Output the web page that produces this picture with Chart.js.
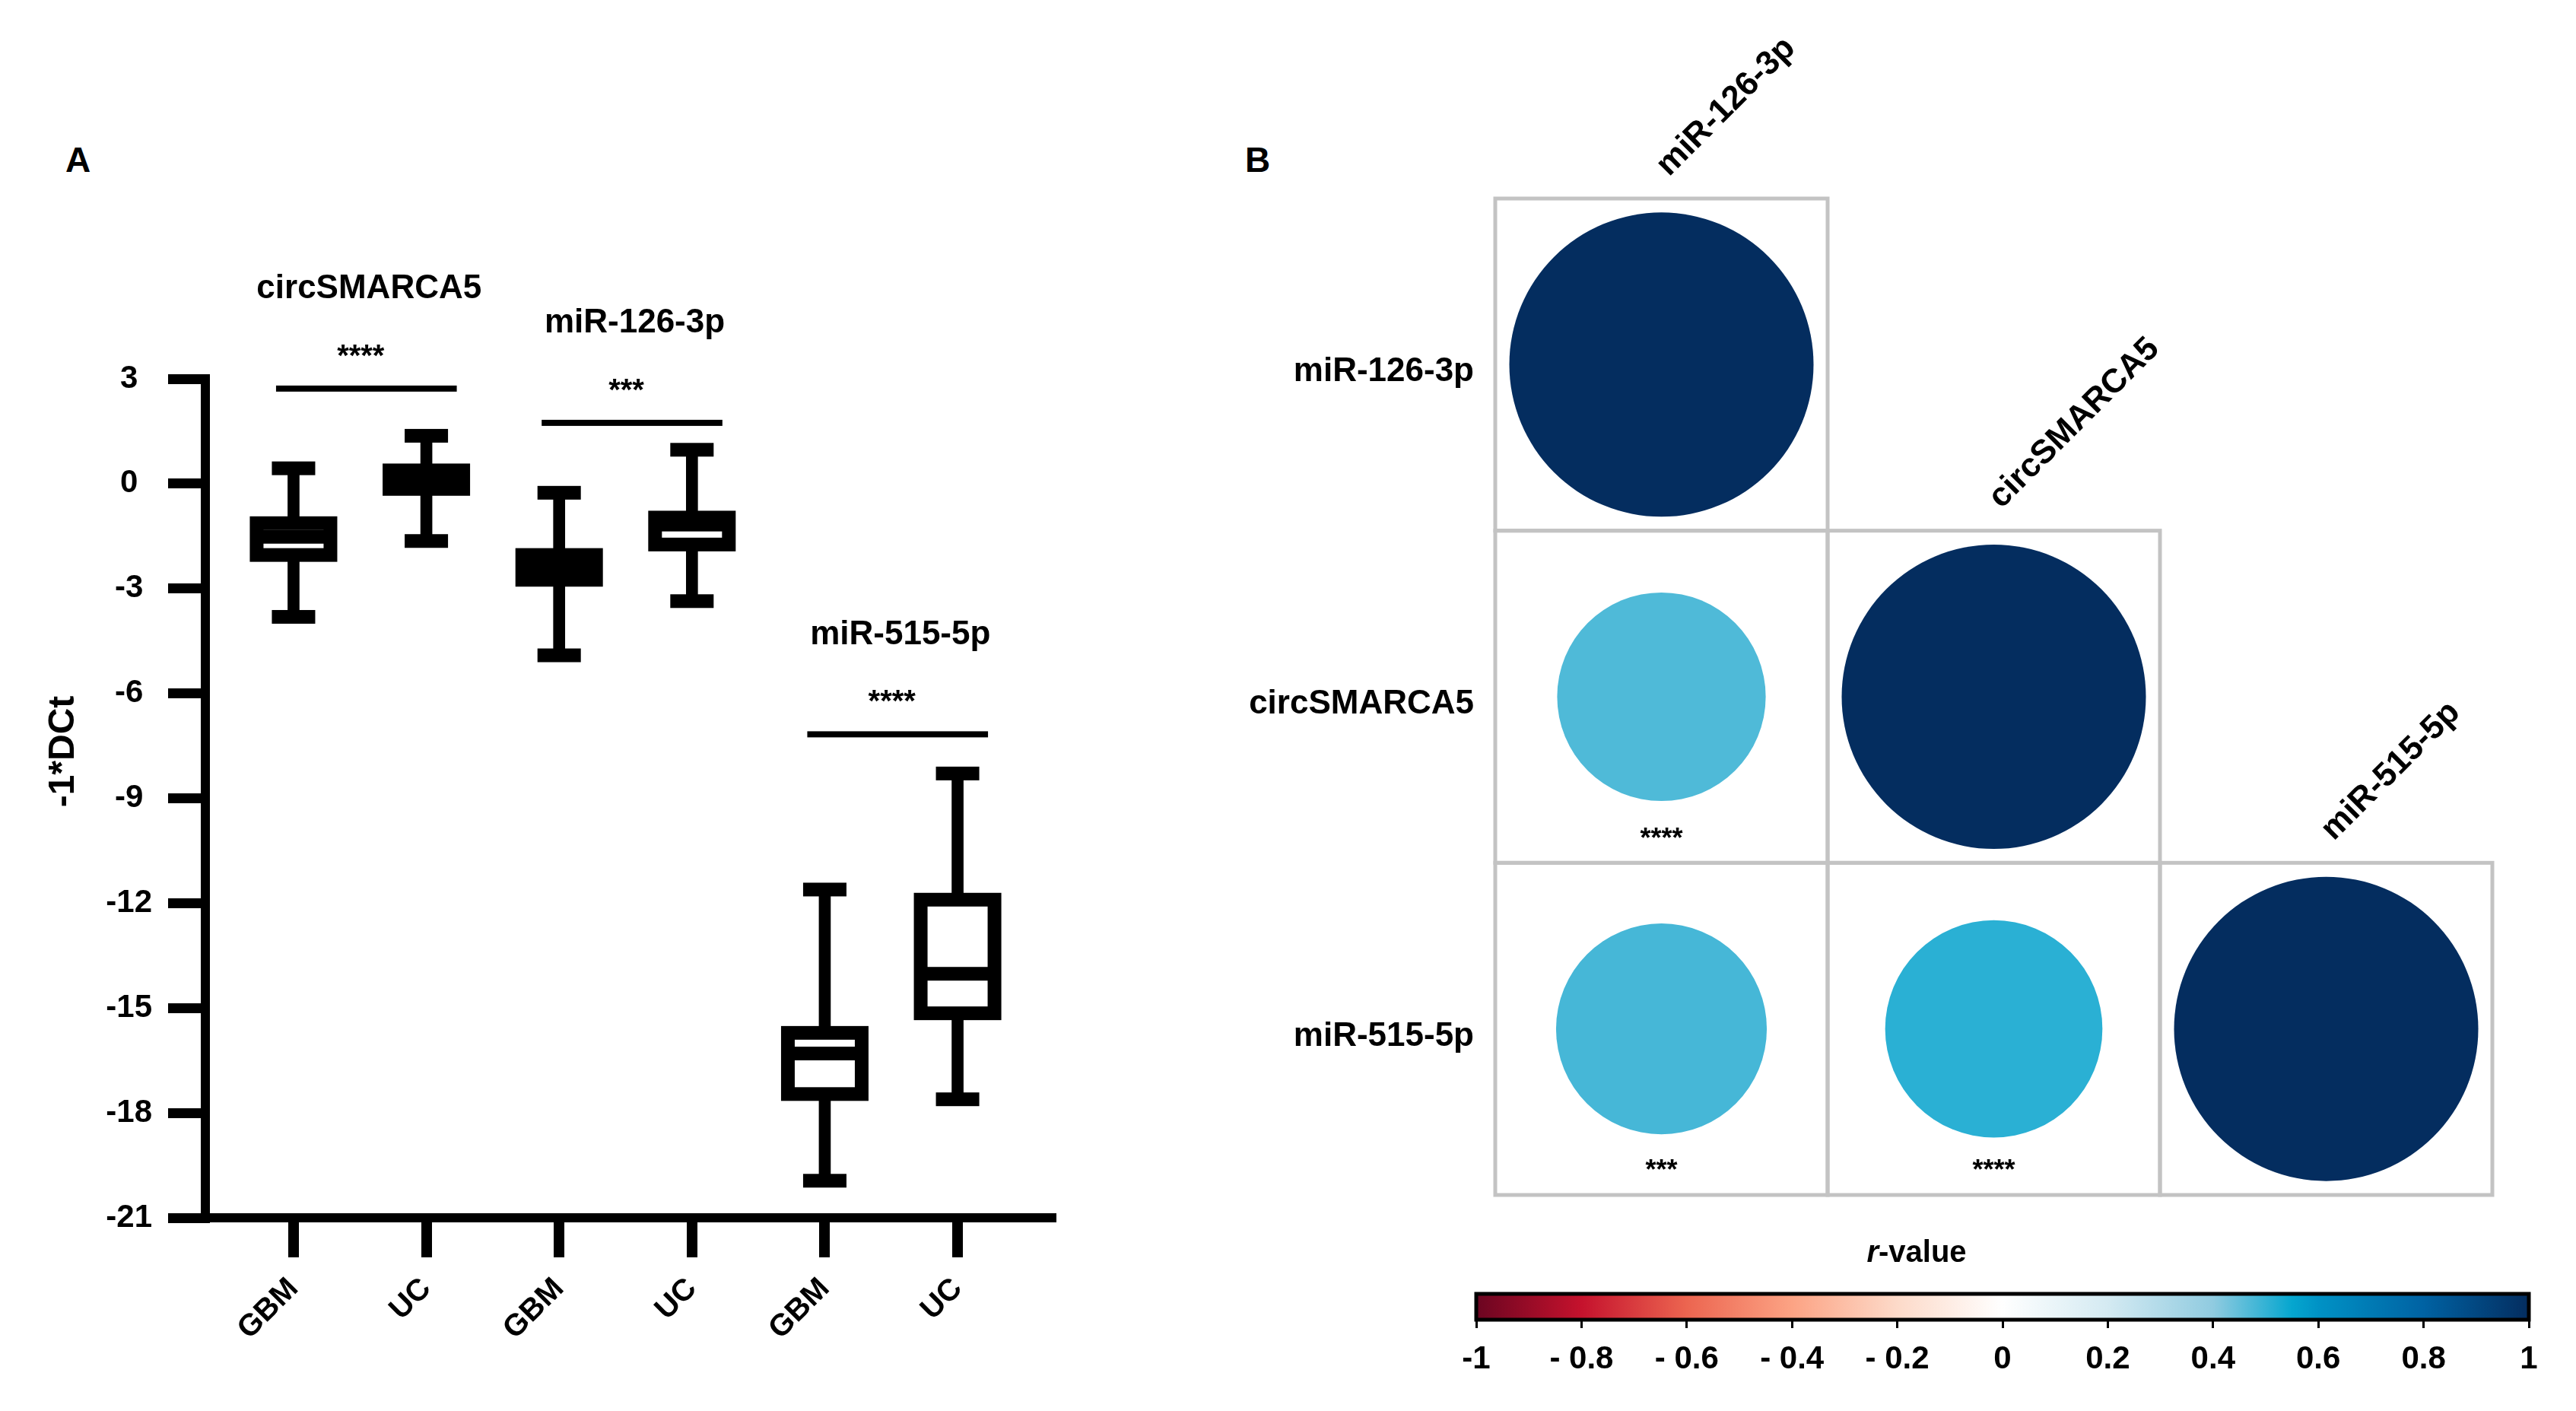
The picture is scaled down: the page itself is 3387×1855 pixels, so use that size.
<!DOCTYPE html>
<html>
<head>
<meta charset="utf-8">
<title>circSMARCA5 / miR-126-3p / miR-515-5p</title>
<script src="https://cdn.jsdelivr.net/npm/chart.js@4.4.1/dist/chart.umd.min.js"></script>
<style>
    html, body { margin: 0; padding: 0; background: #fff; }
    body {
        width: 3387px; height: 1855px;
        position: relative; overflow: hidden;
        font-family: "Liberation Sans", Arial, sans-serif;
    }
    canvas { position: absolute; }
    .panel-label {
        position: absolute;
        font-size: 46px; font-weight: bold; line-height: 1;
        color: #000;
    }
</style>
</head>
<body>
<div class="panel-label" style="left:86px; top:187px;">A</div>
<div class="panel-label" style="left:1637px; top:187px;">B</div>
<canvas id="boxChart" width="1600" height="1855" style="left:0; top:0;"></canvas>
<canvas id="corrChart" width="1787" height="1855" style="left:1600px; top:0;"></canvas>
<canvas id="scaleChart" width="1487" height="295" style="left:1900px; top:1560px;"></canvas>

<script>
// Pannello A - box plot -1*DCt
const groupLabels = ['GBM', 'UC', 'GBM', 'UC', 'GBM', 'UC'];
const boxMin    = [-3.81, -1.64, -4.91, -3.36, -19.94, -17.61];
const boxQ1     = [-2.04, -0.15, -2.75, -1.74, -17.46, -15.15];
const boxMedian = [-1.52,  0.10, -2.40, -1.17, -16.30, -14.02];
const boxQ3     = [-1.13,  0.38, -2.04, -0.97, -15.71, -11.90];
const boxMax    = [ 0.44,  1.37, -0.26,  0.97, -11.61,  -8.29];

const geneNames = ['circSMARCA5', 'miR-126-3p', 'miR-515-5p'];
const geneStars = ['****', '***', '****'];
const sigLevel  = [2.72, 1.74, -7.17];

const yMin = -21, yMax = 3, yStep = 3;
const xMin = -0.664, xMax = 5.704;
const yTitle = '-1*DCt';

// Pannello B - matrice di correlazione
const corrNames = ['miR-126-3p', 'circSMARCA5', 'miR-515-5p'];
const corrR = [
    [1],
    [0.47, 1],
    [0.48, 0.51, 1]
];
const corrStars = [
    [''],
    ['****', ''],
    ['***', '****', '']
];

// Scala colori r-value
const scaleTicks  = [-1, -0.8, -0.6, -0.4, -0.2, 0, 0.2, 0.4, 0.6, 0.8, 1];
const scaleStops  = [-1, -0.8, -0.6, -0.4, -0.2, 0, 0.2, 0.4, 0.55, 0.6, 0.8, 1];
const scaleColors = ['#6b0521', '#c5122d', '#ec6550', '#fca384', '#fddac9', '#ffffff',
                     '#d4eaf2', '#90cbe0', '#05a6cf', '#0092c5', '#0062a3', '#042d5f'];

const FONT = '"Liberation Sans", Arial, sans-serif';
Chart.defaults.font.family = FONT;
Chart.defaults.color = '#000';

// Utility colori
function hexToRgb(hex) {
    const n = parseInt(hex.slice(1), 16);
    return [(n >> 16) & 255, (n >> 8) & 255, n & 255];
}

function rColor(v) {
    if (v <= scaleStops[0]) return scaleColors[0];
    for (let i = 1; i < scaleStops.length; i++) {
        if (v <= scaleStops[i]) {
            const t = (v - scaleStops[i - 1]) / (scaleStops[i] - scaleStops[i - 1]);
            const a = hexToRgb(scaleColors[i - 1]);
            const b = hexToRgb(scaleColors[i]);
            const c = a.map((ch, k) => Math.round(ch + (b[k] - ch) * t));
            return `rgb(${c[0]}, ${c[1]}, ${c[2]})`;
        }
    }
    return scaleColors[scaleColors.length - 1];
}

function formatR(v) {
    const r = Math.round(v * 10) / 10;
    if (r < 0 && r > -1) return '- ' + Math.abs(r);
    return String(r === 0 ? 0 : r);
}

// ---------- Pannello A ----------
const STROKE = 18;
const BOX_HALF = 48.5;
const CAP_HALF = 28.5;

const boxPlugin = {
    id: 'boxes',
    afterDatasetsDraw(chart) {
        const { ctx, scales: { x, y } } = chart;
        ctx.save();

        // box, mediana, baffi
        groupLabels.forEach((g, i) => {
            const cx = x.getPixelForValue(i);
            const top = y.getPixelForValue(boxQ3[i]);
            const bottom = y.getPixelForValue(boxQ1[i]);
            ctx.fillStyle = '#fff';
            ctx.fillRect(cx - BOX_HALF, top, BOX_HALF * 2, bottom - top);
            ctx.lineWidth = STROKE;
            ctx.lineJoin = 'miter';
            ctx.strokeStyle = '#000';
            ctx.strokeRect(cx - BOX_HALF, top, BOX_HALF * 2, bottom - top);

            ctx.fillStyle = '#000';
            const m = y.getPixelForValue(boxMedian[i]);
            ctx.fillRect(cx - BOX_HALF, m - STROKE / 2, BOX_HALF * 2, STROKE);

            [boxMin[i], boxMax[i]].forEach(v => {
                const p = y.getPixelForValue(v);
                ctx.fillRect(cx - CAP_HALF, p - STROKE / 2, CAP_HALF * 2, STROKE);
            });
        });

        // barre di significativita e titoli
        geneNames.forEach((name, g) => {
            const x0 = x.getPixelForValue(g * 2);
            const x1 = x.getPixelForValue(g * 2 + 1);
            const mid = (x0 + x1) / 2;
            const yb = y.getPixelForValue(sigLevel[g]);

            ctx.fillStyle = '#000';
            ctx.fillRect(x0 - 23, yb - 4, (x1 + 40) - (x0 - 23), 8);

            ctx.textAlign = 'center';
            ctx.textBaseline = 'middle';
            ctx.font = `bold 40px ${FONT}`;
            ctx.fillText(geneStars[g], mid + 1, yb - 41);

            ctx.font = `bold 44px ${FONT}`;
            ctx.fillText(name, mid + 12, yb - 131);
        });

        // titolo asse y
        ctx.translate(84, 988);
        ctx.rotate(-Math.PI / 2);
        ctx.font = `bold 48px ${FONT}`;
        ctx.textAlign = 'center';
        ctx.textBaseline = 'middle';
        ctx.fillText(yTitle, 0, 0);

        ctx.restore();
    }
};

new Chart(document.getElementById('boxChart'), {
    type: 'bar',
    data: {
        datasets: [{
            label: 'whiskers',
            data: groupLabels.map((g, i) => ({ x: i, y: [boxMin[i], boxMax[i]] })),
            backgroundColor: '#000',
            borderWidth: 0,
            barThickness: 15
        }]
    },
    options: {
        responsive: false,
        animation: false,
        events: [],
        layout: { autoPadding: false, padding: { left: 0, top: 498, right: 218, bottom: 0 } },
        plugins: {
            legend: { display: false },
            tooltip: { enabled: false }
        },
        scales: {
            x: {
                type: 'linear',
                min: xMin,
                max: xMax,
                offset: false,
                afterBuildTicks: s => { s.ticks = groupLabels.map((g, i) => ({ value: i })); },
                afterFit: s => { s.height = 254; },
                ticks: {
                    callback: v => groupLabels[v],
                    minRotation: 45,
                    maxRotation: 45,
                    autoSkip: false,
                    padding: 18,
                    font: { size: 40, weight: 'bold' },
                    color: '#000'
                },
                grid: {
                    drawOnChartArea: false,
                    offset: false,
                    tickLength: 52,
                    tickWidth: 14,
                    tickColor: '#000',
                    lineWidth: 14,
                    color: '#000'
                },
                border: { display: true, width: 12, color: '#000' }
            },
            y: {
                min: yMin,
                max: yMax,
                afterFit: s => { s.width = 270; },
                ticks: {
                    stepSize: yStep,
                    crossAlign: 'center',
                    padding: 21,
                    font: { size: 42, weight: 'bold' },
                    color: '#000'
                },
                grid: {
                    drawOnChartArea: false,
                    tickLength: 49,
                    tickWidth: 13,
                    tickColor: '#000',
                    lineWidth: 13,
                    color: '#000'
                },
                border: { display: true, width: 12, color: '#000' }
            }
        }
    },
    plugins: [boxPlugin]
});

// ---------- Pannello B ----------
// raggio massimo del cerchio (r = 1), area proporzionale a |r|
const CIRCLE_MAX = 200;

const cells = [];
corrR.forEach((row, r) => {
    row.forEach((v, c) => cells.push({
        x: c,
        y: r,
        r: CIRCLE_MAX * Math.sqrt(Math.abs(v)),
        v: v,
        stars: corrStars[r][c]
    }));
});

function cellSize(chart) {
    const xs = chart.scales.x;
    return Math.abs(xs.getPixelForValue(1) - xs.getPixelForValue(0));
}

const corrPlugin = {
    id: 'corrGrid',
    beforeDatasetsDraw(chart) {
        const { ctx, scales: { x, y } } = chart;
        ctx.save();
        ctx.strokeStyle = '#c3c3c3';
        ctx.lineWidth = 5;
        corrR.forEach((row, r) => {
            row.forEach((v, c) => {
                const x0 = x.getPixelForValue(c - 0.5);
                const x1 = x.getPixelForValue(c + 0.5);
                const y0 = y.getPixelForValue(r - 0.5);
                const y1 = y.getPixelForValue(r + 0.5);
                ctx.strokeRect(x0, y0, x1 - x0, y1 - y0);
            });
        });
        ctx.restore();
    },
    afterDatasetsDraw(chart) {
        const { ctx, scales: { x, y } } = chart;
        const cell = cellSize(chart);
        ctx.save();
        ctx.fillStyle = '#000';

        // asterischi
        ctx.font = `bold 36px ${FONT}`;
        ctx.textAlign = 'center';
        ctx.textBaseline = 'middle';
        cells.forEach(d => {
            if (!d.stars) return;
            ctx.fillText(d.stars, x.getPixelForValue(d.x), y.getPixelForValue(d.y) + 0.43 * cell);
        });

        // etichette colonne ruotate
        ctx.font = `bold 44px ${FONT}`;
        ctx.textAlign = 'left';
        ctx.textBaseline = 'alphabetic';
        corrNames.forEach((name, c) => {
            const sx = x.getPixelForValue(c) + 10;
            const sy = y.getPixelForValue(c - 0.5) - 28;
            ctx.save();
            ctx.translate(sx, sy);
            ctx.rotate(-Math.PI / 4);
            ctx.fillText(name, 0, 0);
            ctx.restore();
        });
        ctx.restore();
    }
};

new Chart(document.getElementById('corrChart'), {
    type: 'bubble',
    data: {
        datasets: [{
            label: 'r',
            data: cells,
            backgroundColor: cells.map(d => rColor(d.v)),
            borderWidth: 0,
            hoverBorderWidth: 0,
            clip: false
        }]
    },
    options: {
        responsive: false,
        animation: false,
        events: [],
        layout: { autoPadding: false, padding: { left: 0, top: 261, right: 110, bottom: 284 } },
        plugins: {
            legend: { display: false },
            tooltip: { enabled: false }
        },
        scales: {
            x: { type: 'linear', min: -0.5, max: 2.5, display: false },
            y: {
                type: 'linear',
                min: -0.5,
                max: 2.5,
                reverse: true,
                afterFit: s => { s.width = 366; },
                afterBuildTicks: s => { s.ticks = corrNames.map((n, i) => ({ value: i })); },
                ticks: {
                    callback: v => corrNames[v],
                    padding: 20,
                    labelOffset: 10,
                    font: { size: 44, weight: 'bold' },
                    color: '#000'
                },
                grid: { display: false },
                border: { display: false }
            }
        }
    },
    plugins: [corrPlugin]
});

// ---------- Barra colori ----------
const colorbarPlugin = {
    id: 'colorbar',
    beforeDatasetsDraw(chart) {
        const { ctx, chartArea: a } = chart;
        ctx.save();
        const grad = ctx.createLinearGradient(a.left, 0, a.right, 0);
        scaleStops.forEach((s, i) => grad.addColorStop((s + 1) / 2, scaleColors[i]));
        ctx.fillStyle = grad;
        ctx.fillRect(a.left, a.top, a.right - a.left, a.bottom - a.top);
        ctx.lineWidth = 5;
        ctx.strokeStyle = '#000';
        ctx.strokeRect(a.left, a.top, a.right - a.left, a.bottom - a.top);

        // titolo r-value (r in corsivo)
        const cx = (a.left + a.right) / 2 - 113;
        const cy = a.top - 53;
        const italic = `italic bold 40px ${FONT}`;
        const bold = `bold 40px ${FONT}`;
        ctx.font = italic;
        const w1 = ctx.measureText('r').width;
        ctx.font = bold;
        const w2 = ctx.measureText('-value').width;
        const start = cx - (w1 + w2) / 2;
        ctx.fillStyle = '#000';
        ctx.textAlign = 'left';
        ctx.textBaseline = 'middle';
        ctx.font = italic;
        ctx.fillText('r', start, cy);
        ctx.font = bold;
        ctx.fillText('-value', start + w1, cy);
        ctx.restore();
    }
};

new Chart(document.getElementById('scaleChart'), {
    type: 'scatter',
    data: { datasets: [{ data: [] }] },
    options: {
        responsive: false,
        animation: false,
        events: [],
        layout: { autoPadding: false, padding: { left: 41, top: 141, right: 62, bottom: 0 } },
        plugins: {
            legend: { display: false },
            tooltip: { enabled: false }
        },
        scales: {
            x: {
                type: 'linear',
                min: -1,
                max: 1,
                afterFit: s => { s.height = 120; },
                afterBuildTicks: s => { s.ticks = scaleTicks.map(v => ({ value: v })); },
                ticks: {
                    callback: v => formatR(v),
                    autoSkip: false,
                    maxRotation: 0,
                    padding: 16,
                    font: { size: 42, weight: 'bold' },
                    color: '#000'
                },
                grid: {
                    drawOnChartArea: false,
                    tickLength: 11,
                    tickWidth: 3,
                    lineWidth: 3,
                    tickColor: '#000',
                    color: '#000'
                },
                border: { display: false }
            },
            y: { display: false, min: 0, max: 1 }
        }
    },
    plugins: [colorbarPlugin]
});
</script>
</body>
</html>
